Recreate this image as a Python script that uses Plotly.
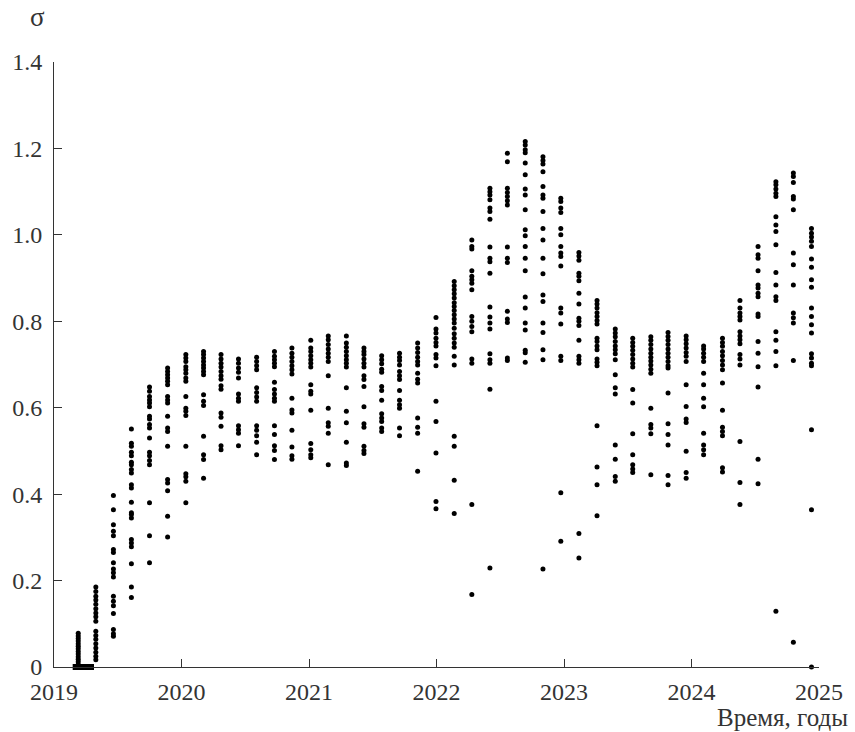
import plotly.graph_objects as go

# ---------------- data ----------------
# Start-up segment in early 2019: near-zero values
start_bar_t = [2019.17, 2019.18, 2019.19, 2019.20, 2019.21, 2019.22, 2019.23,
               2019.24, 2019.25, 2019.26, 2019.27, 2019.28, 2019.29]
start_bar_s = [0.0] * len(start_bar_t)
start_col_t = 2019.19
start_col_s = [0.0, 0.006, 0.012, 0.018, 0.024, 0.030, 0.036, 0.042, 0.048,
               0.054, 0.060, 0.066, 0.072, 0.078]

dates_2019 = [2019.328, 2019.466, 2019.607, 2019.749, 2019.891]
sigma_2019 = [
    [0.185, 0.175, 0.164, 0.155, 0.145, 0.135, 0.125, 0.116, 0.106, 0.083, 0.073,
     0.064, 0.054, 0.044, 0.034, 0.025, 0.017],
    [0.397, 0.364, 0.329, 0.314, 0.304, 0.272, 0.265, 0.241, 0.227, 0.218, 0.208,
     0.164, 0.152, 0.142, 0.124, 0.087, 0.077, 0.071],
    [0.551, 0.518, 0.511, 0.497, 0.489, 0.474, 0.468, 0.457, 0.449, 0.422, 0.414,
     0.381, 0.357, 0.353, 0.345, 0.295, 0.287, 0.278, 0.239, 0.185, 0.161],
    [0.648, 0.638, 0.626, 0.618, 0.611, 0.602, 0.580, 0.574, 0.561, 0.553, 0.530,
     0.497, 0.489, 0.478, 0.468, 0.380, 0.304, 0.241],
    [0.692, 0.684, 0.676, 0.669, 0.661, 0.653, 0.626, 0.618, 0.611, 0.580, 0.553,
     0.545, 0.511, 0.434, 0.426, 0.408, 0.349, 0.301],
]

dates_2020 = [2020.034, 2020.173, 2020.310, 2020.447, 2020.589, 2020.729, 2020.866]
sigma_2020 = [
    [0.723, 0.715, 0.707, 0.695, 0.688, 0.680, 0.669, 0.661, 0.626, 0.599, 0.592,
     0.582, 0.511, 0.447, 0.440, 0.430, 0.380],
    [0.730, 0.723, 0.715, 0.707, 0.699, 0.692, 0.684, 0.676, 0.630, 0.615, 0.605,
     0.534, 0.491, 0.480, 0.437],
    [0.723, 0.713, 0.703, 0.694, 0.684, 0.674, 0.666, 0.651, 0.643, 0.588, 0.578,
     0.557, 0.512, 0.503],
    [0.713, 0.703, 0.692, 0.682, 0.669, 0.632, 0.622, 0.615, 0.558, 0.549, 0.541,
     0.512],
    [0.717, 0.707, 0.697, 0.688, 0.646, 0.635, 0.625, 0.615, 0.558, 0.548, 0.535,
     0.520, 0.491],
    [0.730, 0.719, 0.711, 0.703, 0.695, 0.659, 0.642, 0.632, 0.622, 0.615, 0.558,
     0.538, 0.512, 0.501, 0.480],
    [0.738, 0.726, 0.717, 0.707, 0.697, 0.688, 0.678, 0.622, 0.595, 0.588, 0.548,
     0.509, 0.489, 0.481],
]

dates_2021 = [2021.014, 2021.151, 2021.293, 2021.431, 2021.570, 2021.710,
              2021.852, 2021.996]
sigma_2021 = [
    [0.756, 0.738, 0.730, 0.720, 0.711, 0.703, 0.694, 0.653, 0.638, 0.632, 0.594,
     0.517, 0.503, 0.491, 0.484],
    [0.766, 0.757, 0.746, 0.736, 0.726, 0.717, 0.707, 0.674, 0.599, 0.565, 0.557,
     0.541, 0.468],
    [0.766, 0.750, 0.740, 0.730, 0.720, 0.711, 0.703, 0.694, 0.646, 0.592, 0.565,
     0.520, 0.472, 0.466],
    [0.738, 0.730, 0.723, 0.713, 0.703, 0.694, 0.674, 0.665, 0.649, 0.602, 0.563,
     0.555, 0.511, 0.501, 0.494],
    [0.720, 0.711, 0.702, 0.689, 0.682, 0.649, 0.640, 0.617, 0.586, 0.576, 0.568,
     0.553, 0.545],
    [0.726, 0.717, 0.709, 0.699, 0.684, 0.674, 0.665, 0.640, 0.617, 0.607, 0.599,
     0.553, 0.535],
    [0.750, 0.738, 0.728, 0.717, 0.707, 0.699, 0.680, 0.666, 0.657, 0.576, 0.555,
     0.541, 0.453],
    [0.809, 0.782, 0.773, 0.761, 0.751, 0.743, 0.723, 0.715, 0.697, 0.615, 0.568,
     0.495, 0.383, 0.366],
]

dates_2022 = [2022.139, 2022.277, 2022.419, 2022.556, 2022.696, 2022.835, 2022.975]
sigma_2022 = [
    [0.892, 0.882, 0.873, 0.864, 0.854, 0.843, 0.834, 0.825, 0.815, 0.805, 0.796,
     0.784, 0.771, 0.761, 0.750, 0.740, 0.719, 0.699, 0.534, 0.511, 0.432, 0.355],
    [0.988, 0.973, 0.967, 0.917, 0.904, 0.896, 0.888, 0.873, 0.811, 0.800, 0.788,
     0.776, 0.713, 0.703, 0.376, 0.168],
    [1.108, 1.100, 1.092, 1.081, 1.062, 1.054, 1.036, 0.972, 0.946, 0.938, 0.911,
     0.833, 0.810, 0.796, 0.782, 0.725, 0.711, 0.703, 0.643, 0.229],
    [1.189, 1.169, 1.108, 1.098, 1.089, 1.079, 1.069, 0.972, 0.946, 0.936, 0.823,
     0.805, 0.797, 0.715, 0.709],
    [1.216, 1.208, 1.197, 1.190, 1.166, 1.139, 1.106, 1.092, 1.058, 1.012, 0.998,
     0.973, 0.946, 0.917, 0.856, 0.831, 0.796, 0.780, 0.733, 0.727, 0.705],
    [1.181, 1.172, 1.164, 1.146, 1.112, 1.092, 1.085, 1.054, 1.015, 0.988, 0.946,
     0.910, 0.861, 0.846, 0.796, 0.774, 0.734, 0.711, 0.227],
    [1.085, 1.077, 1.062, 1.052, 1.015, 1.000, 0.973, 0.958, 0.950, 0.928, 0.831,
     0.819, 0.794, 0.719, 0.709, 0.403, 0.291],
]

dates_2023 = [2023.117, 2023.259, 2023.402, 2023.539, 2023.681, 2023.816, 2023.958]
sigma_2023 = [
    [0.959, 0.951, 0.941, 0.911, 0.904, 0.894, 0.865, 0.840, 0.807, 0.800, 0.790,
     0.756, 0.719, 0.711, 0.703, 0.309, 0.252],
    [0.848, 0.840, 0.831, 0.820, 0.811, 0.802, 0.794, 0.761, 0.753, 0.743, 0.734,
     0.713, 0.705, 0.697, 0.558, 0.463, 0.422, 0.350],
    [0.782, 0.773, 0.764, 0.753, 0.743, 0.734, 0.725, 0.711, 0.676, 0.646, 0.632,
     0.514, 0.481, 0.441, 0.430],
    [0.761, 0.751, 0.742, 0.733, 0.723, 0.713, 0.703, 0.694, 0.642, 0.611, 0.540,
     0.491, 0.468, 0.458, 0.450],
    [0.764, 0.756, 0.746, 0.736, 0.726, 0.717, 0.708, 0.699, 0.689, 0.680, 0.599,
     0.561, 0.553, 0.540, 0.445],
    [0.774, 0.765, 0.756, 0.746, 0.736, 0.726, 0.717, 0.707, 0.697, 0.692, 0.634,
     0.563, 0.538, 0.514, 0.443, 0.422],
    [0.766, 0.757, 0.748, 0.738, 0.728, 0.719, 0.707, 0.653, 0.603, 0.574, 0.566,
     0.499, 0.450, 0.437],
]

dates_2024 = [2024.095, 2024.243, 2024.380, 2024.522, 2024.662, 2024.799, 2024.941]
sigma_2024 = [
    [0.743, 0.736, 0.726, 0.717, 0.707, 0.680, 0.653, 0.622, 0.602, 0.541, 0.514,
     0.503, 0.491],
    [0.761, 0.751, 0.742, 0.730, 0.720, 0.709, 0.699, 0.688, 0.657, 0.594, 0.555,
     0.545, 0.535, 0.461, 0.451],
    [0.848, 0.831, 0.819, 0.811, 0.803, 0.776, 0.766, 0.757, 0.748, 0.723, 0.713,
     0.699, 0.522, 0.427, 0.376],
    [0.973, 0.954, 0.946, 0.917, 0.884, 0.877, 0.865, 0.857, 0.817, 0.811, 0.753,
     0.726, 0.695, 0.648, 0.481, 0.424],
    [1.123, 1.116, 1.106, 1.096, 1.089, 1.042, 1.023, 1.008, 0.977, 0.913, 0.884,
     0.857, 0.848, 0.776, 0.756, 0.730, 0.697, 0.129],
    [1.143, 1.135, 1.121, 1.089, 1.083, 1.058, 0.958, 0.931, 0.884, 0.819, 0.808,
     0.796, 0.709, 0.057],
    [1.015, 1.004, 0.995, 0.985, 0.973, 0.944, 0.925, 0.896, 0.879, 0.831, 0.811,
     0.792, 0.773, 0.725, 0.715, 0.703, 0.697, 0.549, 0.364, 0.0],
]

x_ticks = [2019, 2020, 2021, 2022, 2023, 2024, 2025]
y_ticks = [0, 0.2, 0.4, 0.6, 0.8, 1.0, 1.2, 1.4]
y_tick_text = ["0", "0.2", "0.4", "0.6", "0.8", "1.0", "1.2", "1.4"]

# ---------------- build ----------------
xs, ys = [], []
for dates, cols in [(dates_2019, sigma_2019), (dates_2020, sigma_2020),
                    (dates_2021, sigma_2021), (dates_2022, sigma_2022),
                    (dates_2023, sigma_2023), (dates_2024, sigma_2024)]:
    for d, vals in zip(dates, cols):
        xs.extend([d] * len(vals))
        ys.extend(vals)
xs.extend([start_col_t] * len(start_col_s))
ys.extend(start_col_s)

FONT = "Times New Roman, Liberation Serif, DejaVu Serif, serif"
AX = "#333333"

fig = go.Figure()
fig.add_trace(go.Scatter(
    x=xs, y=ys, mode="markers", cliponaxis=False,
    marker=dict(color="black", size=5, line=dict(width=0)),
    showlegend=False, hoverinfo="skip"))
fig.add_trace(go.Scatter(
    x=start_bar_t, y=start_bar_s, mode="markers", cliponaxis=False,
    marker=dict(color="black", size=6, symbol="square", line=dict(width=0)),
    showlegend=False, hoverinfo="skip"))

fig.update_layout(
    width=855, height=732,
    margin=dict(l=54, r=28, t=62, b=65),
    paper_bgcolor="white", plot_bgcolor="white",
    font=dict(family=FONT, size=24, color=AX),
    xaxis=dict(range=[2019, 2025], tickvals=x_ticks,
               ticktext=[str(v) for v in x_ticks],
               showline=True, linecolor=AX, linewidth=1,
               ticks="inside", ticklen=8, tickcolor=AX, tickwidth=1,
               showgrid=False, zeroline=False, ticklabelstandoff=3,
               tickfont=dict(family=FONT, size=24, color=AX)),
    yaxis=dict(range=[0, 1.4], tickvals=y_ticks, ticktext=y_tick_text,
               showline=True, linecolor=AX, linewidth=1,
               ticks="inside", ticklen=8, tickcolor=AX, tickwidth=1,
               showgrid=False, zeroline=False, ticklabelstandoff=6,
               tickfont=dict(family=FONT, size=24, color=AX)),
    annotations=[
        dict(text="σ", xref="paper", yref="paper", x=-0.022, y=1.074,
             xanchor="center", yanchor="middle", showarrow=False,
             font=dict(family=FONT, size=27, color=AX)),
        dict(text="Время, годы", xref="paper", yref="paper", x=1.040, y=-0.083,
             xanchor="right", yanchor="middle", showarrow=False,
             font=dict(family=FONT, size=25, color=AX)),
    ],
)

fig.write_html("out.html")
